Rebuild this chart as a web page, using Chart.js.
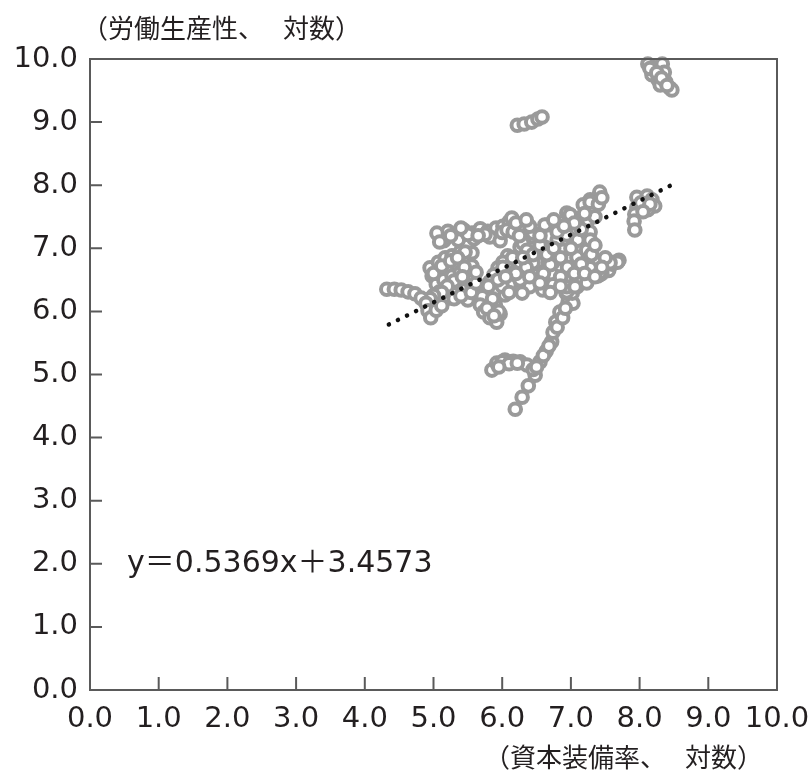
<!DOCTYPE html>
<html>
<head>
<meta charset="utf-8">
<script src="https://cdn.jsdelivr.net/npm/chart.js@4"></script>
<style>
  html, body { margin: 0; padding: 0; background: #fff; }
  #wrap { width: 812px; height: 775px; position: relative; }
</style>
</head>
<body>
<div id="wrap"><canvas id="scatter-chart"></canvas></div>
<script>
// 資本装備率 (x) と 労働生産性 (y), both log
const capitalRatio = [
    8.12, 8.22, 8.33, 8.18, 8.27, 8.36, 8.30, 8.38, 8.44, 8.47, 8.15, 8.25, 8.32, 8.40,
    6.22, 6.32, 6.43, 6.52, 6.58,
    7.96, 8.11, 8.18, 8.22, 8.08, 7.96, 7.93, 7.92, 7.93, 8.12, 8.02, 8.15, 8.05,
    5.09, 5.21, 5.33, 5.44, 5.56, 5.68, 5.79, 5.91, 6.01, 6.10, 6.17, 5.15, 5.36, 5.59, 5.82, 5.97, 5.05,
    5.25, 5.50, 5.75, 6.00, 5.40, 5.65,
    4.95, 5.07, 5.17, 5.27, 5.39, 5.50, 4.98, 5.09, 5.21, 5.33, 5.44, 5.56, 5.04, 5.15, 5.27, 5.39, 5.50,
    5.09, 5.24, 5.36, 5.47, 5.21, 5.33, 5.44, 5.56, 5.59, 5.50, 5.56, 5.46, 5.09,
    5.00, 5.12, 5.25, 5.35, 5.45, 5.30, 5.20, 5.42, 5.12, 5.30, 5.40, 5.55, 5.62, 5.62, 5.00, 4.95,
    4.32, 4.43, 4.53, 4.63, 4.73, 4.82, 4.89, 4.92, 4.96, 5.04, 5.12,
    6.08, 6.01, 5.94, 5.88, 5.82, 5.76, 5.71, 5.68, 5.73, 5.82, 5.92, 5.97, 5.90, 6.04, 6.11, 6.17,
    5.80, 5.86, 5.78, 5.95, 6.00, 5.88,
    5.85, 5.92, 6.04, 6.16, 6.26, 6.36, 6.00, 6.10, 5.95, 6.22,
    6.38, 6.29, 6.19, 6.48, 6.55, 6.64, 6.72, 6.74, 6.78, 6.84, 6.96, 6.93, 7.03, 7.06, 7.02,
    6.60, 6.68, 6.80, 6.88, 6.92, 6.45, 6.50,
    7.39, 7.48, 7.57, 7.64, 7.70, 7.35, 7.28, 7.55, 7.60, 7.45, 7.68,
    6.14, 6.07, 6.65, 6.45, 6.26, 6.51, 6.26, 6.40, 6.59, 6.74, 6.89, 7.09, 7.23, 7.09, 7.28, 7.16,
    7.31, 7.28, 7.42, 6.94, 7.09, 6.94, 7.53, 7.42, 6.74, 6.62, 6.80, 6.94, 6.16, 6.30, 6.45, 6.26,
    6.29, 6.59, 6.74, 6.94, 7.09, 7.06, 7.23, 7.09, 7.23, 6.89, 6.70, 6.51, 6.62, 6.80, 6.99, 7.18,
    7.28, 7.10, 7.28, 7.42, 7.57, 6.36, 6.45, 6.01, 5.94,
    6.35, 6.45, 6.55, 6.65, 6.75, 6.85, 6.95, 7.05, 7.15, 7.20, 6.85, 6.60, 6.40, 6.55, 6.70, 6.85,
    7.00, 7.15, 7.25, 7.35, 7.40, 7.45, 7.20, 7.05, 6.90, 6.75, 6.55, 6.40, 6.25, 6.20, 6.35, 7.50,
    7.45, 7.35, 7.30, 7.35, 6.20, 6.15, 6.30, 6.05, 6.10
];
const laborProductivity = [
    9.92, 9.86, 9.92, 9.75, 9.67, 9.79, 9.59, 9.64, 9.54, 9.51, 9.85, 9.78, 9.70, 9.58,
    8.95, 8.97, 9.00, 9.05, 9.08,
    7.81, 7.83, 7.77, 7.67, 7.65, 7.65, 7.54, 7.43, 7.29, 7.61, 7.72, 7.70, 7.58,
    7.19, 7.27, 7.23, 7.29, 7.24, 7.31, 7.27, 7.32, 7.35, 7.42, 7.34, 7.12, 7.13, 7.15, 7.18, 7.12, 7.24,
    7.20, 7.22, 7.22, 7.25, 7.32, 7.20,
    6.69, 6.78, 6.85, 6.88, 6.94, 6.89, 6.56, 6.62, 6.69, 6.75, 6.78, 6.72, 6.43, 6.50, 6.56, 6.62, 6.56,
    6.31, 6.37, 6.43, 6.47, 6.21, 6.28, 6.34, 6.40, 6.53, 6.18, 6.93, 6.94, 7.10,
    6.60, 6.72, 6.80, 6.85, 6.70, 6.48, 6.40, 6.55, 6.30, 6.20, 6.25, 6.30, 6.45, 6.62, 6.25, 6.20,
    6.35, 6.35, 6.34, 6.31, 6.28, 6.21, 6.13, 6.01, 5.90, 6.02, 6.09,
    6.88, 6.78, 6.69, 6.58, 6.47, 6.34, 6.23, 6.10, 5.99, 5.90, 5.83, 5.96, 6.10, 6.26, 6.42, 6.62,
    6.40, 6.20, 6.05, 6.00, 6.40, 5.93,
    5.07, 5.18, 5.23, 5.21, 5.20, 5.15, 5.20, 5.17, 5.12, 5.18,
    4.82, 4.64, 4.45, 4.99, 5.20, 5.37, 5.52, 5.67, 5.83, 5.99, 6.15, 6.29, 6.13, 6.42, 6.29,
    5.30, 5.45, 5.75, 5.90, 6.05, 5.08, 5.12,
    6.56, 6.66, 6.72, 6.78, 6.81, 6.78, 6.69, 6.65, 6.75, 6.60, 6.78,
    7.48, 7.29, 7.37, 7.18, 7.02, 6.78, 6.53, 6.39, 6.39, 6.58, 6.97, 6.85, 6.97, 7.13, 7.26, 7.42,
    7.61, 7.77, 7.89, 7.56, 6.39, 6.31, 6.77, 6.58, 6.78, 7.02, 7.13, 7.21, 7.26, 7.08, 6.77, 6.50,
    6.29, 6.34, 6.42, 6.39, 6.50, 6.39, 6.45, 6.86, 6.97, 6.97, 6.74, 6.58, 7.37, 7.26, 7.53, 7.69,
    7.73, 7.13, 7.13, 6.61, 6.77, 6.97, 7.24, 6.70, 6.50,
    6.70, 6.90, 7.05, 6.90, 7.00, 6.85, 6.70, 6.60, 6.75, 6.60, 6.55, 6.60, 6.55, 6.45, 6.30, 6.40,
    7.00, 7.30, 7.45, 7.50, 7.70, 7.80, 7.55, 7.40, 7.35, 7.45, 7.20, 7.35, 7.20, 7.40, 7.45, 6.85,
    6.70, 6.55, 6.90, 7.05, 6.60, 6.85, 6.85, 6.55, 6.30
];

// regression line y = 0.5369x + 3.4573
const slope = 0.5369;
const intercept = 3.4573;
const fitRange = [4.35, 8.5];

const axisTicks = [0, 1, 2, 3, 4, 5, 6, 7, 8, 9, 10];
// axis titles are set in two pieces because of the wide gap after 、
const yTitle = ['（労働生産性、', '対数）'];
const xTitle = ['（資本装備率、', '対数）'];
const equationText = 'y＝0.5369x＋3.4573';

const points = capitalRatio.map((x, i) => ({ x: x, y: laborProductivity[i] }));
const fitLine = fitRange.map(x => ({ x: x, y: slope * x + intercept }));

const numFont = '"DejaVu Sans", sans-serif';
const cjkFont = '"Noto Sans CJK JP", sans-serif';

// second piece placed so that 対 sits at centre cx
function drawTitle(ctx, parts, x, cx, y) {
    ctx.fillText(parts[0], x, y);
    ctx.fillText(parts[1], cx - ctx.measureText('対').width / 2, y);
}

// box + inward tick marks + text labels
const frame = {
    id: 'frame',
    afterDraw(chart) {
        const ctx = chart.ctx;
        const a = chart.chartArea;
        const xs = chart.scales.x;
        const ys = chart.scales.y;
        ctx.save();
        ctx.strokeStyle = '#5a5a5a';
        ctx.lineWidth = 2;
        ctx.strokeRect(a.left, a.top, a.right - a.left, a.bottom - a.top);
        ctx.beginPath();
        axisTicks.forEach(v => {
            const px = xs.getPixelForValue(v);
            ctx.moveTo(px, a.bottom);
            ctx.lineTo(px, a.bottom - 13);
            const py = ys.getPixelForValue(v);
            ctx.moveTo(a.left, py);
            ctx.lineTo(a.left + 12, py);
        });
        ctx.stroke();

        ctx.fillStyle = '#231f20';
        ctx.font = '26px ' + cjkFont;
        ctx.textBaseline = 'middle';
        ctx.textAlign = 'left';
        drawTitle(ctx, yTitle, 82, 296, 28);
        drawTitle(ctx, xTitle, 484, 698, 757);
        ctx.font = '30px ' + numFont + ', ' + cjkFont;
        ctx.fillText(equationText, xs.getPixelForValue(0.54), ys.getPixelForValue(2.0));
        ctx.restore();
    }
};

new Chart(document.getElementById('scatter-chart'), {
    type: 'scatter',
    data: {
        datasets: [{
            type: 'line',
            label: 'fit',
            data: fitLine,
            borderColor: '#111',
            borderWidth: 4.5,
            borderDash: [0.1, 10],
            borderCapStyle: 'round',
            pointRadius: 0,
            fill: false,
            order: 0
        }, {
            label: 'data',
            data: points,
            pointRadius: 5.8,
            pointBorderWidth: 4,
            borderColor: '#9a9a9a',
            backgroundColor: '#ffffff',
            clip: false,
            order: 1
        }]
    },
    options: {
        responsive: true,
        maintainAspectRatio: false,
        animation: false,
        layout: {
            padding: { top: 59, right: 35, left: 0, bottom: 0 }
        },
        plugins: {
            legend: { display: false },
            tooltip: { enabled: false }
        },
        scales: {
            x: {
                type: 'linear',
                min: 0,
                max: 10,
                afterFit: s => {
                    s.height = 85;
                    s.paddingLeft = 0;
                    s.paddingRight = 0;
                },
                grid: { display: false, drawTicks: false },
                border: { display: false },
                ticks: {
                    stepSize: 1,
                    padding: 12,
                    maxRotation: 0,
                    minRotation: 0,
                    autoSkip: false,
                    color: '#231f20',
                    font: { family: numFont, size: 29 },
                    callback: v => v.toFixed(1)
                }
            },
            y: {
                type: 'linear',
                min: 0,
                max: 10,
                afterFit: s => {
                    s.width = 90;
                    s.paddingTop = 0;
                    s.paddingBottom = 0;
                },
                grid: { display: false, drawTicks: false },
                border: { display: false },
                ticks: {
                    stepSize: 1,
                    padding: 12,
                    color: '#231f20',
                    font: { family: numFont, size: 29 },
                    callback: v => v.toFixed(1)
                }
            }
        }
    },
    plugins: [frame]
});
</script>
</body>
</html>
